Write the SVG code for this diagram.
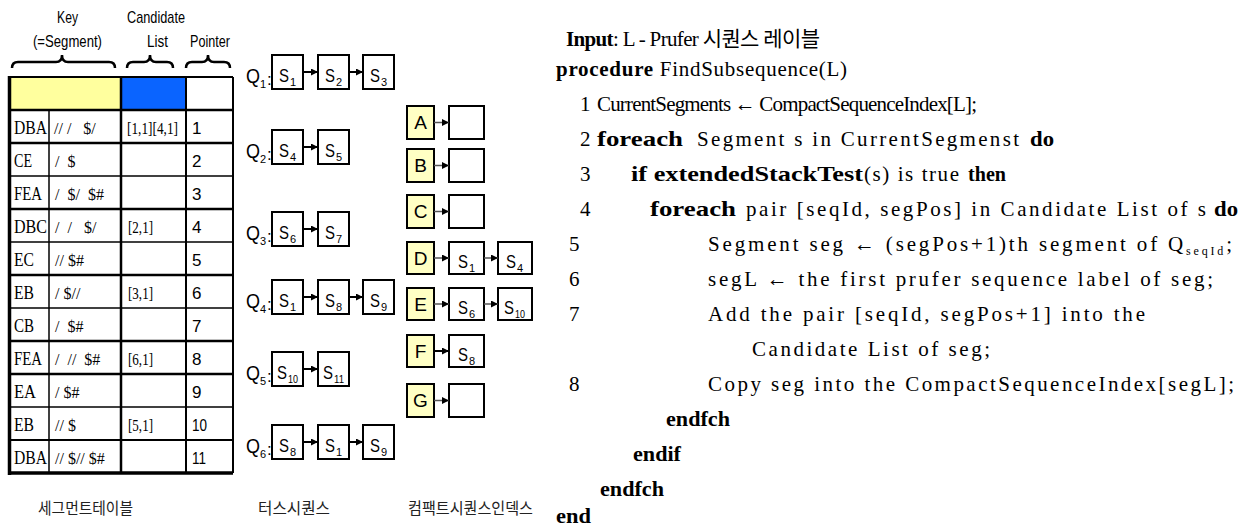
<svg xmlns="http://www.w3.org/2000/svg" width="1242" height="527" viewBox="0 0 1242 527">
<style>
  .serif{font-family:"Liberation Serif","Noto Sans CJK KR",serif}
  .sans{font-family:"Liberation Sans",Arial,sans-serif}
  .kr{font-family:"Noto Sans CJK KR",sans-serif}
  .hdr{font-size:17px}
  .key{font-size:18px}
  .sym{font-size:16px}
  .cand{font-size:16px}
  .ptr{font-size:17px}
  .box{fill:#fff;stroke:#000;stroke-width:2}
  .kbox{fill:#ffffc4;stroke:#000;stroke-width:2}
  .s{font-size:19px}
  .sub{font-size:11px}
  .ql{font-size:20px}
  .colon{font-size:17px}
  .klet{font-size:19px;text-anchor:middle}
  .alg{font-size:21px;fill:#000}
  .b{font-weight:bold}
  .cap{font-size:16px;fill:#222}
  .link{stroke:#000;stroke-width:2;fill:none}
  .ilink{stroke:#555;stroke-width:1.5;fill:none}
  .brace{stroke:#000;stroke-width:2.5;fill:none}
</style>
<defs>
  <marker id="head" viewBox="0 0 8 8" refX="8" refY="4" markerWidth="7" markerHeight="7" markerUnits="userSpaceOnUse" orient="auto">
    <path d="M0,0L8,4L0,8z" fill="#000"/>
  </marker>
</defs>
<rect width="1242" height="527" fill="#fff"/>

<!-- segment table -->
<g id="segment-table">
  <text class="sans hdr" x="57" y="23" textLength="21" lengthAdjust="spacingAndGlyphs">Key</text>
  <text class="sans hdr" x="33" y="47" textLength="69" lengthAdjust="spacingAndGlyphs">(=Segment)</text>
  <text class="sans hdr" x="127" y="23" textLength="58" lengthAdjust="spacingAndGlyphs">Candidate</text>
  <text class="sans hdr" x="147" y="47" textLength="21" lengthAdjust="spacingAndGlyphs">List</text>
  <text class="sans hdr" x="190" y="47" textLength="40" lengthAdjust="spacingAndGlyphs">Pointer</text>
  <path class="brace" d="M12,68 Q12,62 18,62 L56,62 Q62,62 62,55 Q62,62 68,62 L109,62 Q115,62 115,68"/>
  <path class="brace" d="M127,68 Q127,62 133,62 L144,62 Q150,62 150,55 Q150,62 156,62 L167,62 Q173,62 173,68"/>
  <path class="brace" d="M186,68 Q186,62 192,62 L202,62 Q208,62 208,55 Q208,62 214,62 L224,62 Q230,62 230,68"/>

  <rect x="9" y="77" width="112" height="33" fill="#ffff9e"/>
  <rect x="121" y="77" width="65" height="33" fill="#0a64ff"/>

  <g stroke="#000">
    <line x1="9" y1="77" x2="233" y2="77" stroke-width="2"/>
    <line x1="9" y1="110" x2="233" y2="110" stroke-width="2.5"/>
    <line x1="9" y1="143" x2="233" y2="143" stroke-width="2.5"/>
    <line x1="9" y1="176" x2="233" y2="176" stroke-width="1.5"/>
    <line x1="9" y1="209" x2="233" y2="209" stroke-width="2.5"/>
    <line x1="9" y1="242" x2="233" y2="242" stroke-width="1.5"/>
    <line x1="9" y1="275" x2="233" y2="275" stroke-width="2.5"/>
    <line x1="9" y1="308" x2="233" y2="308" stroke-width="1.5"/>
    <line x1="9" y1="341" x2="233" y2="341" stroke-width="2.5"/>
    <line x1="9" y1="374" x2="233" y2="374" stroke-width="2.5"/>
    <line x1="9" y1="407" x2="233" y2="407" stroke-width="1.5"/>
    <line x1="9" y1="440" x2="233" y2="440" stroke-width="2"/>
    <line x1="9" y1="473" x2="233" y2="473" stroke-width="3.5"/>
    <line x1="9.5" y1="76" x2="9.5" y2="475" stroke-width="3.5"/>
    <line x1="49" y1="110" x2="49" y2="473" stroke-width="1.5"/>
    <line x1="121" y1="77" x2="121" y2="473" stroke-width="2.5"/>
    <line x1="186" y1="77" x2="186" y2="473" stroke-width="2"/>
    <line x1="233" y1="77" x2="233" y2="473" stroke-width="2"/>
  </g>

  <g class="serif key">
    <text x="14" y="134" textLength="33" lengthAdjust="spacingAndGlyphs">DBA</text>
    <text x="14" y="167" textLength="18" lengthAdjust="spacingAndGlyphs">CE</text>
    <text x="14" y="200" textLength="28" lengthAdjust="spacingAndGlyphs">FEA</text>
    <text x="14" y="233" textLength="33" lengthAdjust="spacingAndGlyphs">DBC</text>
    <text x="14" y="266" textLength="20" lengthAdjust="spacingAndGlyphs">EC</text>
    <text x="14" y="299" textLength="20" lengthAdjust="spacingAndGlyphs">EB</text>
    <text x="14" y="332" textLength="20" lengthAdjust="spacingAndGlyphs">CB</text>
    <text x="14" y="365" textLength="28" lengthAdjust="spacingAndGlyphs">FEA</text>
    <text x="14" y="398" textLength="22" lengthAdjust="spacingAndGlyphs">EA</text>
    <text x="14" y="431" textLength="20" lengthAdjust="spacingAndGlyphs">EB</text>
    <text x="14" y="464" textLength="33" lengthAdjust="spacingAndGlyphs">DBA</text>
  </g>
  <g class="serif sym">
    <text x="54" y="134" xml:space="preserve">// /   $/</text>
    <text x="55" y="167" xml:space="preserve">/  $</text>
    <text x="55" y="200" xml:space="preserve">/  $/  $#</text>
    <text x="55" y="233" xml:space="preserve">/  /   $/</text>
    <text x="55" y="266" xml:space="preserve">// $#</text>
    <text x="55" y="299" xml:space="preserve">/ $//</text>
    <text x="55" y="332" xml:space="preserve">/  $#</text>
    <text x="55" y="365" xml:space="preserve">/  //  $#</text>
    <text x="55" y="398" xml:space="preserve">/ $#</text>
    <text x="55" y="431" xml:space="preserve">// $</text>
    <text x="55" y="464" xml:space="preserve">// $// $#</text>
  </g>
  <g class="serif cand">
    <text x="127" y="134" textLength="51" lengthAdjust="spacingAndGlyphs">[1,1][4,1]</text>
    <text x="128" y="233" textLength="25" lengthAdjust="spacingAndGlyphs">[2,1]</text>
    <text x="128" y="299" textLength="25" lengthAdjust="spacingAndGlyphs">[3,1]</text>
    <text x="128" y="365" textLength="25" lengthAdjust="spacingAndGlyphs">[6,1]</text>
    <text x="128" y="431" textLength="25" lengthAdjust="spacingAndGlyphs">[5,1]</text>
  </g>
  <g class="sans ptr">
    <text x="192" y="134">1</text>
    <text x="192" y="167">2</text>
    <text x="192" y="200">3</text>
    <text x="192" y="233">4</text>
    <text x="192" y="266">5</text>
    <text x="192" y="299">6</text>
    <text x="192" y="332">7</text>
    <text x="192" y="365">8</text>
    <text x="192" y="398">9</text>
    <text x="192" y="431" textLength="15" lengthAdjust="spacingAndGlyphs">10</text>
    <text x="192" y="464" textLength="14" lengthAdjust="spacingAndGlyphs">11</text>
  </g>
  <text class="kr cap" x="38" y="514" textLength="95" lengthAdjust="spacingAndGlyphs">세그먼트테이블</text>
</g>

<!-- data sequences Q1..Q6 -->
<g id="q1" class="sans">
  <text class="ql" x="246" y="83" textLength="14" lengthAdjust="spacingAndGlyphs">Q</text><text class="sub" x="260" y="88">1</text><text class="colon" x="267" y="85">:</text>
  <rect class="box" x="272" y="55" width="31" height="34"/>
  <text class="s" x="279" y="82" textLength="10" lengthAdjust="spacingAndGlyphs">S</text><text class="sub" x="290" y="86">1</text>
  <rect class="box" x="318" y="55" width="31" height="34"/>
  <text class="s" x="325" y="82" textLength="10" lengthAdjust="spacingAndGlyphs">S</text><text class="sub" x="336" y="86">2</text>
  <rect class="box" x="363" y="55" width="31" height="34"/>
  <text class="s" x="370" y="82" textLength="10" lengthAdjust="spacingAndGlyphs">S</text><text class="sub" x="381" y="86">3</text>
</g>
<g id="q2" class="sans">
  <text class="ql" x="246" y="158" textLength="14" lengthAdjust="spacingAndGlyphs">Q</text><text class="sub" x="260" y="163">2</text><text class="colon" x="267" y="160">:</text>
  <rect class="box" x="272" y="130" width="31" height="34"/>
  <text class="s" x="279" y="157" textLength="10" lengthAdjust="spacingAndGlyphs">S</text><text class="sub" x="290" y="161">4</text>
  <rect class="box" x="318" y="130" width="31" height="34"/>
  <text class="s" x="325" y="157" textLength="10" lengthAdjust="spacingAndGlyphs">S</text><text class="sub" x="336" y="161">5</text>
</g>
<g id="q3" class="sans">
  <text class="ql" x="246" y="240" textLength="14" lengthAdjust="spacingAndGlyphs">Q</text><text class="sub" x="260" y="245">3</text><text class="colon" x="267" y="242">:</text>
  <rect class="box" x="272" y="212" width="31" height="34"/>
  <text class="s" x="279" y="239" textLength="10" lengthAdjust="spacingAndGlyphs">S</text><text class="sub" x="290" y="243">6</text>
  <rect class="box" x="318" y="212" width="31" height="34"/>
  <text class="s" x="325" y="239" textLength="10" lengthAdjust="spacingAndGlyphs">S</text><text class="sub" x="336" y="243">7</text>
</g>
<g id="q4" class="sans">
  <text class="ql" x="246" y="308" textLength="14" lengthAdjust="spacingAndGlyphs">Q</text><text class="sub" x="260" y="313">4</text><text class="colon" x="267" y="310">:</text>
  <rect class="box" x="272" y="280" width="31" height="34"/>
  <text class="s" x="279" y="307" textLength="10" lengthAdjust="spacingAndGlyphs">S</text><text class="sub" x="290" y="311">1</text>
  <rect class="box" x="318" y="280" width="31" height="34"/>
  <text class="s" x="325" y="307" textLength="10" lengthAdjust="spacingAndGlyphs">S</text><text class="sub" x="336" y="311">8</text>
  <rect class="box" x="363" y="280" width="31" height="34"/>
  <text class="s" x="370" y="307" textLength="10" lengthAdjust="spacingAndGlyphs">S</text><text class="sub" x="381" y="311">9</text>
</g>
<g id="q5" class="sans">
  <text class="ql" x="246" y="380" textLength="14" lengthAdjust="spacingAndGlyphs">Q</text><text class="sub" x="260" y="385">5</text><text class="colon" x="267" y="382">:</text>
  <rect class="box" x="272" y="352" width="31" height="34"/>
  <text class="s" x="277" y="379" textLength="10" lengthAdjust="spacingAndGlyphs">S</text><text class="sub" x="288" y="383" textLength="10" lengthAdjust="spacingAndGlyphs">10</text>
  <rect class="box" x="318" y="352" width="31" height="34"/>
  <text class="s" x="323" y="379" textLength="10" lengthAdjust="spacingAndGlyphs">S</text><text class="sub" x="334" y="383" textLength="10" lengthAdjust="spacingAndGlyphs">11</text>
</g>
<g id="q6" class="sans">
  <text class="ql" x="246" y="453" textLength="14" lengthAdjust="spacingAndGlyphs">Q</text><text class="sub" x="260" y="458">6</text><text class="colon" x="267" y="455">:</text>
  <rect class="box" x="272" y="425" width="31" height="34"/>
  <text class="s" x="279" y="452" textLength="10" lengthAdjust="spacingAndGlyphs">S</text><text class="sub" x="290" y="456">8</text>
  <rect class="box" x="318" y="425" width="31" height="34"/>
  <text class="s" x="325" y="452" textLength="10" lengthAdjust="spacingAndGlyphs">S</text><text class="sub" x="336" y="456">1</text>
  <rect class="box" x="363" y="425" width="31" height="34"/>
  <text class="s" x="370" y="452" textLength="10" lengthAdjust="spacingAndGlyphs">S</text><text class="sub" x="381" y="456">9</text>
</g>
<text class="kr cap" x="258" y="514" textLength="72" lengthAdjust="spacingAndGlyphs">터스시퀀스</text>

<!-- compact sequence index -->
<g id="idx-a" class="sans">
  <rect class="kbox" x="407" y="106" width="27" height="33"/><text class="klet" x="420.5" y="129">A</text>
  <rect class="box" x="449" y="106" width="35" height="33"/>
</g>
<g id="idx-b" class="sans">
  <rect class="kbox" x="407" y="149" width="27" height="33"/><text class="klet" x="420.5" y="172">B</text>
  <rect class="box" x="449" y="149" width="35" height="33"/>
</g>
<g id="idx-c" class="sans">
  <rect class="kbox" x="407" y="195" width="27" height="33"/><text class="klet" x="420.5" y="218">C</text>
  <rect class="box" x="449" y="195" width="35" height="33"/>
</g>
<g id="idx-d" class="sans">
  <rect class="kbox" x="407" y="242" width="27" height="32"/><text class="klet" x="420.5" y="265">D</text>
  <rect class="box" x="449" y="242" width="35" height="32"/>
  <text class="s" x="458" y="268" textLength="10" lengthAdjust="spacingAndGlyphs">S</text><text class="sub" x="469" y="272">1</text>
  <rect class="box" x="498" y="242" width="34" height="32"/>
  <text class="s" x="506" y="268" textLength="10" lengthAdjust="spacingAndGlyphs">S</text><text class="sub" x="517" y="272">4</text>
</g>
<g id="idx-e" class="sans">
  <rect class="kbox" x="407" y="288" width="27" height="32"/><text class="klet" x="420.5" y="311">E</text>
  <rect class="box" x="449" y="288" width="35" height="32"/>
  <text class="s" x="458" y="314" textLength="10" lengthAdjust="spacingAndGlyphs">S</text><text class="sub" x="469" y="318">6</text>
  <rect class="box" x="498" y="288" width="34" height="32"/>
  <text class="s" x="504" y="314" textLength="10" lengthAdjust="spacingAndGlyphs">S</text><text class="sub" x="515" y="318" textLength="10" lengthAdjust="spacingAndGlyphs">10</text>
</g>
<g id="idx-f" class="sans">
  <rect class="kbox" x="407" y="335" width="27" height="32"/><text class="klet" x="420.5" y="358">F</text>
  <rect class="box" x="449" y="335" width="35" height="32"/>
  <text class="s" x="458" y="361" textLength="10" lengthAdjust="spacingAndGlyphs">S</text><text class="sub" x="469" y="365">8</text>
</g>
<g id="idx-g" class="sans">
  <rect class="kbox" x="407" y="384" width="27" height="33"/><text class="klet" x="420.5" y="407">G</text>
  <rect class="box" x="449" y="384" width="35" height="33"/>
</g>
<text class="kr cap" x="408" y="514" textLength="125" lengthAdjust="spacingAndGlyphs">컴팩트시퀀스인덱스</text>

<!-- connectors -->
<g id="connectors">
  <line class="link" x1="303" y1="72" x2="318" y2="72" marker-end="url(#head)"/>
  <line class="link" x1="349" y1="72" x2="363" y2="72" marker-end="url(#head)"/>
  <line class="link" x1="303" y1="147" x2="318" y2="147" marker-end="url(#head)"/>
  <line class="link" x1="303" y1="229" x2="318" y2="229" marker-end="url(#head)"/>
  <line class="link" x1="303" y1="297" x2="318" y2="297" marker-end="url(#head)"/>
  <line class="link" x1="349" y1="297" x2="363" y2="297" marker-end="url(#head)"/>
  <line class="link" x1="303" y1="369" x2="318" y2="369" marker-end="url(#head)" stroke-width="3"/>
  <line class="link" x1="303" y1="442" x2="318" y2="442" marker-end="url(#head)"/>
  <line class="link" x1="349" y1="442" x2="363" y2="442" marker-end="url(#head)"/>
  <line class="ilink" x1="434" y1="122.5" x2="449" y2="122.5" marker-end="url(#head)"/>
  <line class="ilink" x1="434" y1="165.5" x2="449" y2="165.5" marker-end="url(#head)"/>
  <line class="ilink" x1="434" y1="211.5" x2="449" y2="211.5" marker-end="url(#head)"/>
  <line class="ilink" x1="434" y1="258" x2="449" y2="258" marker-end="url(#head)"/>
  <line class="ilink" x1="484" y1="258" x2="498" y2="258" marker-end="url(#head)"/>
  <line class="ilink" x1="434" y1="304" x2="449" y2="304" marker-end="url(#head)"/>
  <line class="ilink" x1="484" y1="304" x2="498" y2="304" marker-end="url(#head)"/>
  <line class="link" x1="434" y1="351" x2="449" y2="351" marker-end="url(#head)" stroke-width="3"/>
  <line class="ilink" x1="434" y1="400.5" x2="449" y2="400.5" marker-end="url(#head)"/>
</g>

<!-- FindSubsequence pseudo-code -->
<g id="algorithm" class="serif alg">
  <text x="566" y="46" textLength="254" lengthAdjust="spacing"><tspan class="b">Input</tspan>: L - Prufer 시퀀스 레이블</text>
  <text x="556" y="76" textLength="291" lengthAdjust="spacing"><tspan class="b">procedure</tspan> FindSubsequence(L)</text>

  <text x="580" y="111">1</text>
  <text x="597" y="111" textLength="380" lengthAdjust="spacing">CurrentSegments ← CompactSequenceIndex[L];</text>

  <text x="580" y="146">2</text>
  <text class="b" x="597" y="146" textLength="86" lengthAdjust="spacingAndGlyphs">foreach</text>
  <text x="697" y="146" textLength="322" lengthAdjust="spacing">Segment s in CurrentSegmenst</text>
  <text class="b" x="1030" y="146" textLength="24" lengthAdjust="spacingAndGlyphs">do</text>

  <text x="580" y="181">3</text>
  <text class="b" x="631" y="181" textLength="232" lengthAdjust="spacingAndGlyphs">if extendedStackTest</text>
  <text x="864" y="181" textLength="95" lengthAdjust="spacing">(s) is true</text>
  <text class="b" x="968" y="181" textLength="38" lengthAdjust="spacingAndGlyphs">then</text>

  <text x="580" y="216">4</text>
  <text class="b" x="650" y="216" textLength="86" lengthAdjust="spacingAndGlyphs">foreach</text>
  <text x="746" y="216" textLength="460" lengthAdjust="spacing">pair [seqId, segPos] in Candidate List of s</text>
  <text class="b" x="1214" y="216" textLength="24" lengthAdjust="spacingAndGlyphs">do</text>

  <text x="569" y="251">5</text>
  <text x="708" y="251" textLength="524" lengthAdjust="spacing">Segment seg ← (segPos+1)th segment of Q<tspan font-size="12" dy="4">seqId</tspan><tspan dy="-4">;</tspan></text>
  <text x="569" y="286">6</text>
  <text x="708" y="286" textLength="505" lengthAdjust="spacing">segL ← the first prufer sequence label of seg;</text>
  <text x="569" y="321">7</text>
  <text x="708" y="321" textLength="437" lengthAdjust="spacing">Add the pair [seqId, segPos+1] into the</text>
  <text x="752" y="356" textLength="238" lengthAdjust="spacing">Candidate List of seg;</text>
  <text x="569" y="391">8</text>
  <text x="708" y="391" textLength="526" lengthAdjust="spacing">Copy seg into the CompactSequenceIndex[segL];</text>

  <text class="b" x="666" y="426" textLength="64" lengthAdjust="spacingAndGlyphs">endfch</text>
  <text class="b" x="633" y="461" textLength="48" lengthAdjust="spacingAndGlyphs">endif</text>
  <text class="b" x="600" y="496" textLength="64" lengthAdjust="spacingAndGlyphs">endfch</text>
  <text class="b" x="556" y="523" textLength="35" lengthAdjust="spacingAndGlyphs">end</text>
</g>
</svg>
